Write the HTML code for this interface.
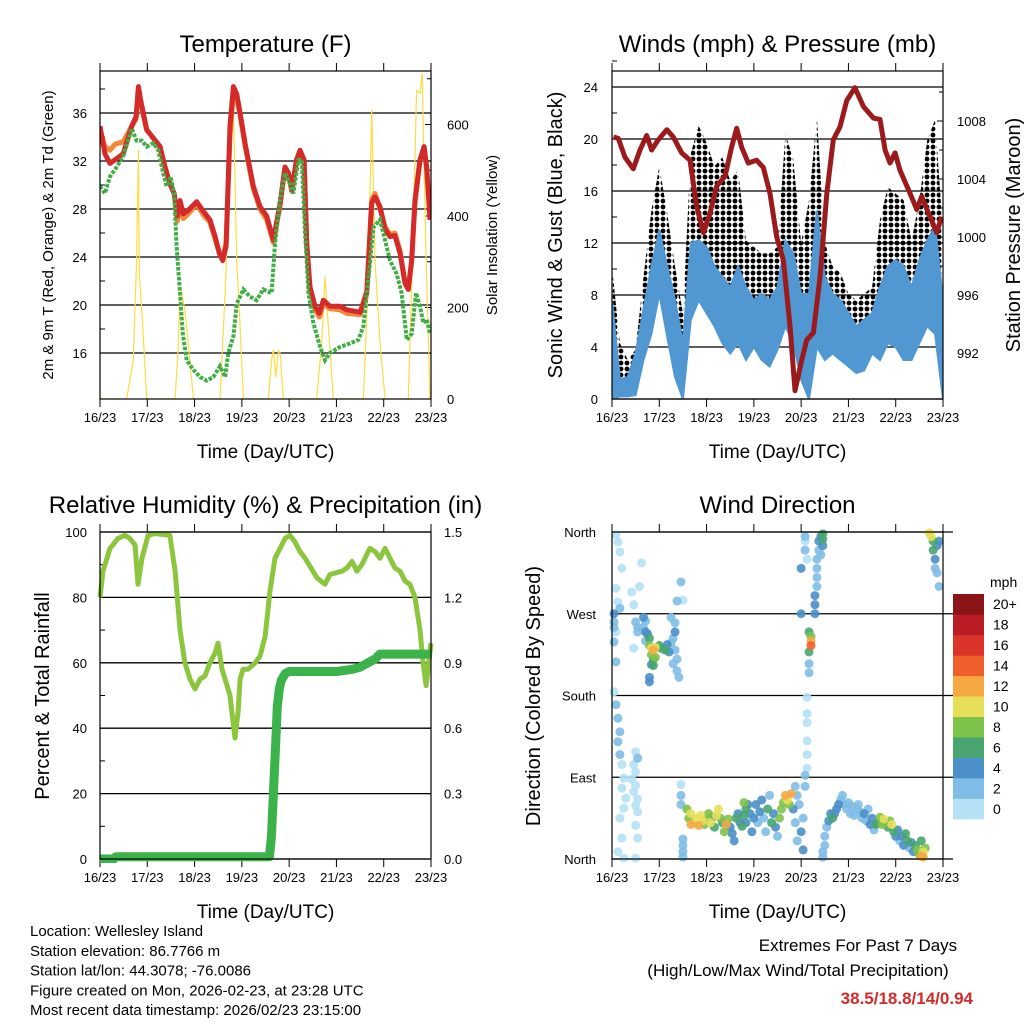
<!DOCTYPE html>
<html><head><meta charset="utf-8"><style>
body{margin:0;background:#fff}
svg{display:block;font-family:"Liberation Sans",Arial,sans-serif}
</style></head><body>
<svg id="c" width="1024" height="1024" viewBox="0 0 1024 1024" xmlns="http://www.w3.org/2000/svg">
<defs>
<pattern id="dots" width="6" height="6" patternUnits="userSpaceOnUse"><circle cx="3" cy="3" r="2.4" fill="#000"/></pattern>
<clipPath id="cp1"><rect x="100" y="71" width="331" height="328"/></clipPath>
<clipPath id="cp2"><rect x="612" y="71" width="331" height="328"/></clipPath>
<clipPath id="cp3"><rect x="96" y="528" width="339" height="335"/></clipPath>
<clipPath id="cp4"><rect x="608" y="528" width="339" height="335"/></clipPath>
</defs>
<g id="root"></g>
</svg>
<script>
// ---------- Temperature panel data ----------
const tHours=[0,2.5,5.1,7.6,11.8,16.1,18.3,19.5,20.6,22,23.7,27.1,30.5,33,35.5,37.6,39.3,40.6,42.3,44.8,49.1,52.5,55.8,58.4,60.6,62.3,64,66,67.7,69.4,71.1,73.6,77.8,81.2,84.6,88,91.4,93.9,95.6,97.3,99.8,101.5,103.6,104.9,106.6,109.1,111.3,113.4,116.7,121.8,125.2,132,135.4,137.9,139.6,142.1,144.7,147.2,149.7,152.3,154.8,156.5,158.2,159.9,162.4,164.5,165.8,167.5];
const temp2m=[34.9,32.6,31.8,32.1,32.6,34.9,35.7,38.2,37.1,36.0,34.6,33.9,33.2,31.5,30.1,29.3,27.4,28.7,27.6,27.9,28.6,27.8,27.1,25.7,24.3,23.7,24.9,34.9,38.2,37.6,36.0,33.5,29.9,28.2,27.4,25.4,28.5,31.5,31.0,29.6,32.1,32.9,32.1,25.1,21.5,19.9,19.3,20.4,19.9,19.9,19.6,19.4,21.0,28.5,29.0,28.2,26.3,25.7,25.8,24.3,21.8,21.3,23.7,28.8,32.1,33.2,31.5,27.1];
const temp9m=[34.6,33.2,32.9,33.4,33.6,34.9,35.5,37.6,36.9,35.8,34.6,33.9,33.0,31.5,30.1,29.3,27.0,28.4,27.2,27.6,28.4,27.5,26.9,25.5,24.3,23.9,25.2,34.2,37.5,37.2,35.8,33.3,29.7,28.0,27.1,25.2,28.3,31.4,31.0,29.5,32.1,32.8,32.0,25.3,21.2,19.6,19.0,20.1,19.7,19.6,19.3,19.2,21.2,28.8,29.3,28.0,26.5,25.9,26.0,24.5,21.9,21.4,23.8,28.5,32.0,33.0,31.3,27.2];
const tdHours=[0,2.5,5.1,8.5,11.8,16.1,18.6,21.2,23.7,27.1,29.6,32.1,33.8,35.9,37.6,38.9,40.6,42,44,47.4,50.8,54.1,57.5,60.9,63.5,65.1,67.7,69.4,72.8,76.1,79.5,82.9,87.1,88.8,91.4,93.9,96.4,98.1,100.7,102.4,104.1,105.8,108.3,111.7,114.2,116.7,121.8,126.9,131.1,133.7,136.2,138.8,142.1,144.7,147.2,150.6,153.1,155.7,158.2,160.4,162.4,164.1,165.8,167.5];
const dewpoint=[29.9,29.3,30.7,31.5,32.4,34.7,33.7,33.7,33.2,33.5,32.9,31.0,29.9,30.7,29.3,24.9,21.0,17.6,15.4,14.6,14.0,13.7,14.0,14.9,14.0,16.0,17.4,20.1,21.3,20.7,20.4,21.3,21.0,25.1,28.8,31.0,30.1,29.3,32.1,32.1,26.0,21.0,18.5,16.5,15.4,16.0,16.5,16.8,17.1,18.2,22.1,26.5,27.1,25.4,23.7,22.6,21.0,17.1,17.6,21.0,19.9,18.5,18.8,17.6];
const solarHours=[0,13.5,16.9,18.6,19.5,20,20.6,21.7,23.7,38.1,39.8,40.6,41.5,43.1,44.8,47.4,60.9,63.5,65.1,66.8,67.7,68.5,69.4,71.1,72.8,85.4,87.1,88,89.3,90.5,91.4,93.1,110,112.5,114.2,115.9,118.4,133.7,136.2,137.9,139.6,142.1,144.7,156.5,159,160.7,162.4,163.5,164.1,165.5,167.5];
const solar=[0,0,85,304,544,267,231,158,0,0,122,245,231,195,122,0,0,231,413,632,625,486,304,158,0,0,85,107,49,107,100,0,0,122,267,158,0,0,267,632,304,122,0,0,377,675,668,712,595,304,0];
const tempTicks=[16,20,24,28,32,36];
const solarTicks=[0,200,400,600];
const dayLabels=["16/23","17/23","18/23","19/23","20/23","21/23","22/23","23/23"];
// ---------- Wind panel data ----------
const windHours=[0,4,8,12,16,20,24,28,32,36,40,44,48,52,56,60,64,68,72,76,80,84,88,92,96,100,104,108,112,116,120,124,128,132,136,140,144,148,152,156,160,164,168];
const windLo=[0,0.2,0.2,0.3,3,5,8.1,4.8,1.7,0,6.1,7.6,6.6,5.6,4.3,3.5,4.3,3,4,3,2.5,3.8,5.6,4.3,1.5,0,4,3,3.5,3,2.5,2,2.2,3.5,3,4.3,4,3,3,4.3,5.6,5,0];
const windHi=[7.6,1.5,1.7,3.5,6.9,10.2,13,10.2,7.6,4.3,12,12.2,11.7,10.2,9.4,8.6,10.2,8.6,7.6,8.1,7.6,8.6,12.2,11.2,8.1,8.1,14.5,9.4,8.1,7.6,6.6,5.6,6.1,6.6,8.6,10.2,10.7,10.2,8.6,10.7,12.2,13.3,7.6];
const gust=[10.2,4.3,3,3.8,9.4,14.5,17.9,14.3,10.2,6.6,18.9,21,19.7,17.9,18.6,16.8,17.6,12.2,11.7,11.2,11.2,11.7,20.4,18.4,12,15.3,21.7,12,10.2,9.7,8.1,7.6,8.1,8.6,13.8,16.3,15.8,15.3,12.2,15.3,19.9,21.5,12.8];
const presHours=[0.7,3.2,6.6,10.8,14.2,17.6,20.1,23.5,27.8,31.1,35.4,39.6,43,46.4,49.7,53.1,57.4,60.7,63.3,65.8,69.2,73.4,76.8,80.2,83.6,87,90.4,92.9,96.3,98.8,102.2,105.6,109,112.3,115.7,119.1,123.3,127.6,132.7,136,138.6,141.1,143.7,146.2,151.3,154.7,157.2,161.4,164.8,167.3];
const pressure=[1006.9,1006.8,1005.5,1004.7,1006.0,1007.0,1006.0,1006.7,1007.4,1006.9,1005.8,1005.3,1002.1,1000.3,1001.6,1003.5,1004.2,1006.2,1007.5,1006.2,1005.1,1005.3,1004.8,1003.0,1000.0,998.4,993.8,989.4,991.5,992.9,993.4,997.3,1003.0,1006.7,1007.6,1009.4,1010.3,1009.0,1008.2,1008.1,1006.0,1005.1,1005.8,1004.6,1003.0,1001.9,1002.8,1001.4,1000.3,1001.4];
const windTicks=[0,4,8,12,16,20,24];
const presTicks=[992,996,1000,1004,1008];
// ---------- RH / precip data ----------
const rhHours=[0,1.5,5.1,9.1,12.7,15.2,17.8,19.3,21.3,24.4,27.9,35.5,38.1,40.6,43.1,45.7,48.2,50.8,53.3,55.8,58.4,59.9,60.9,61.9,63.5,66,67.5,68.5,70.1,71.1,72.6,75.1,78.7,81.2,83.8,86.3,88.8,91.4,93.9,96.4,98.9,101.5,104.1,110.1,114.2,116.7,122.8,125.3,127.9,130.4,132.9,134.5,137,139.6,142.1,144.7,147.2,149.7,152.3,154.8,157.3,159.9,162.4,164,165.5,168];
const rh=[80,88,95,98,99,98,96,84,92,99,99.5,99,88,70,60,55,52,55,56,60,63,66,62,58,55,50,42,37,45,55,58,58,60,62,68,82,92,95,98,99,97,94,92,86,84,87,88,89,91,88,90,92,95,94,92,95,92,89,88,85,84,80,70,60,53,66];
const precipHours=[0,7,8,86,87,88,89,90,91,92,94,96,120,128,132,136,140,142,168];
const precip=[0,0,0.01,0.01,0.1,0.3,0.5,0.7,0.78,0.82,0.85,0.86,0.86,0.87,0.88,0.9,0.92,0.94,0.94];
const rhTicks=[0,20,40,60,80,100];
const prTicks=["0.0","0.3","0.6","0.9","1.2","1.5"];
// ---------- Wind direction data ----------
const dirHour=[2,3,4,5,2,3,4,1,2,1,2,1,2,3,4,3,4,5,6,5,7,6,4,5,3,6,1,1,10,11,12,13,11,12,13,11,12,10,12,11,13,12,13,12,13,12,15,14,13,16,17,16,17,18,19,17,19,20,21,22,20,21,22,20,21,19,19,24,25,27,28,29,30,31,32,30,32,33,31,33,34,32,35,36,33,35,35,35,36,36,36,36,38,39,40,40,42,43,44,45,46,47,48,49,50,51,52,53,54,55,56,57,58,59,60,61,62,63,64,65,66,67,67,68,68,69,70,71,72,73,74,75,76,77,78,79,80,81,82,83,84,85,86,87,88,89,90,91,92,93,94,95,93,94,96,97,97,98,98,99,99,99,99,99,99,100,100,100,101,101,101,100,96,96,98,98,98,99,103,103,103,104,104,104,104,105,105,106,107,107,106,107,107,107,108,108,109,110,111,112,113,114,115,116,117,118,119,120,121,122,123,124,125,126,127,128,129,130,131,132,133,134,135,136,137,138,139,140,141,142,143,144,145,146,147,148,149,150,151,152,153,154,155,156,157,158,158,159,157,161,162,163,163,164,164,165,165,166,166];
const dirDeg=[357,349,338,320,298,283,276,261,250,239,217,184,170,155,140,129,115,104,89,78,67,56,45,23,8,1,270,255,294,280,261,250,232,118,111,104,96,88,81,74,66,59,52,37,23,1,326,300,255,266,262,255,250,248,243,240,235,232,230,233,225,220,222,214,213,200,195,235,232,230,236,228,238,243,260,266,230,220,215,207,200,250,305,285,284,82,70,60,22,15,8,2,55,45,38,50,40,45,37,48,42,38,44,50,40,46,35,48,55,45,40,30,38,44,35,28,20,45,50,40,36,48,62,55,40,60,50,30,45,60,40,52,65,45,30,55,70,40,50,35,25,45,55,62,70,65,60,72,55,80,70,60,40,20,30,10,45,80,92,100,115,130,150,160,178,205,215,228,235,240,245,250,320,270,340,355,350,330,270,280,290,300,310,320,330,340,350,355,358,345,335,352,2,8,15,25,35,42,50,45,50,55,60,65,70,60,55,62,50,58,48,55,60,52,45,50,42,55,38,45,32,38,40,46,38,44,40,35,42,38,30,25,32,20,25,15,28,20,12,18,8,15,10,5,3,2,8,12,20,359,355,350,340,330,320,315,345,350,300];
const dirSpeed=[1,1,1,1,1,1,2,3,1,3,3,1,2,2,2,2,2,1,1,1,1,1,1,1,1,1,5,3,1,1,2,3,1,1,2,1,1,1,1,1,1,1,1,1,1,1,1,1,3,5,3,3,5,5,7,3,9,11,13,11,9,7,9,5,7,5,5,7,7,7,5,5,3,3,3,2,3,3,3,2,2,5,2,1,2,1,2,2,3,3,3,3,9,9,13,11,11,11,13,11,11,9,9,9,11,7,7,11,11,9,7,9,13,9,5,5,5,7,5,5,7,7,9,7,5,5,5,5,5,5,3,5,5,3,3,7,3,7,5,5,3,9,9,9,13,11,9,13,5,3,3,3,3,3,5,5,3,3,3,1,1,1,1,1,1,3,3,7,15,13,9,7,5,5,3,3,1,1,5,5,5,3,3,3,3,3,5,5,7,5,3,7,3,3,3,3,3,5,5,7,5,5,5,3,3,3,3,3,3,3,3,3,3,3,3,5,3,3,5,5,3,7,7,9,9,11,9,7,9,11,7,5,5,3,5,5,7,7,3,5,5,7,9,9,13,13,11,9,7,11,11,7,7,5,3,3,5,5,3];
const dirTickLabels=["North","East","South","West","North"];
const speedBins=["0","2","4","6","8","10","12","14","16","18","20+"];
const binColors=["#b5e1f6","#80bde6","#4a8fc8","#49a56f","#7dc24b","#e7df5a","#f6a843","#ef5f2b","#da342b","#b91c24","#8c1417"];

const NS="http://www.w3.org/2000/svg";
const root=document.getElementById('root');
function mk(tag,attrs,parent,text){const e=document.createElementNS(NS,tag);for(const k in attrs)e.setAttribute(k,attrs[k]);if(text!==undefined)e.textContent=text;(parent||root).appendChild(e);return e;}
function grp(name,clip){const g=mk('g',clip?{'clip-path':'url(#'+clip+')'}:{});


return g;}
function pathD(xs,ys,fx,fy){return xs.map((h,i)=>(i?'L':'M')+fx(h).toFixed(1)+','+fy(ys[i]).toFixed(1)).join('');}

function panelFrame(name,x0,x1,y0,y1,title,xTitle){
  const g=grp(name+'-frame');
  const t=mk('text',{x:(x0+x1)/2,y:y0-19,'font-size':24,'text-anchor':'middle'},g,title);
  
  
  const xt=mk('text',{x:(x0+x1)/2,y:y1+59,'font-size':19,'text-anchor':'middle'},g,xTitle);
  
  
  dayLabels.forEach((d,i)=>{const x=x0+i*(x1-x0)/7;
    mk('line',{x1:x,x2:x,y1:y0-8,y2:y0,stroke:'#000','stroke-width':1},g);
    mk('line',{x1:x,x2:x,y1:y1,y2:y1+8,stroke:'#000','stroke-width':1},g);
    const l=mk('text',{x:x,y:y1+23,'font-size':13,'text-anchor':'middle'},g,d);
    
    
  });
  return g;
}
function box(x0,x1,y0,y1){const r=mk('rect',{x:x0,y:y0,width:x1-x0,height:y1-y0,fill:'none',stroke:'#000','stroke-width':1.2});

}

// ===== Panel 1 Temperature =====
(function(){
const x0=100,x1=431,y0=71,y1=399;
const X=h=>x0+h*(x1-x0)/168, YT=v=>353-(v-16)*12, YS=v=>399-v*0.4575;
panelFrame('temperature',x0,x1,y0,y1,'Temperature (F)','Time (Day/UTC)');
const ga=grp('temperature-axes');
tempTicks.forEach(v=>{mk('line',{x1:x0,x2:x1,y1:YT(v),y2:YT(v),stroke:'#000','stroke-width':1.3},ga);
 const l=mk('text',{x:x0-13,y:YT(v)+5,'font-size':13,'text-anchor':'end'},ga,v);
 
 
 mk('line',{x1:x0,x2:x0+5,y1:YT(v+2),y2:YT(v+2),stroke:'#000'},ga);});
solarTicks.forEach(v=>{const l=mk('text',{x:x1+16,y:YS(v)+5,'font-size':13},ga,v);
 
 
 mk('line',{x1:x1-6,x2:x1,y1:YS(v),y2:YS(v),stroke:'#000'},ga);
 mk('line',{x1:x1-4,x2:x1,y1:YS(v+100),y2:YS(v+100),stroke:'#000'},ga);});
const yl=mk('text',{transform:'translate(53,235) rotate(-90)','font-size':15,'text-anchor':'middle'},ga,'2m & 9m T (Red, Orange) & 2m Td (Green)');


const yr=mk('text',{transform:'translate(497,235) rotate(-90)','font-size':15,'text-anchor':'middle'},ga,'Solar Insolation (Yellow)');


const gd=grp('temperature-series','cp1');
const s=mk('path',{d:pathD(solarHours,solar,X,YS),fill:'none',stroke:'#ffdc40','stroke-width':1.2,'stroke-linejoin':'round'},gd);


const o=mk('path',{d:pathD(tHours,temp9m,X,YT),fill:'none',stroke:'#f5863a','stroke-width':5,'stroke-linejoin':'round'},gd);


const r=mk('path',{d:pathD(tHours,temp2m,X,YT),fill:'none',stroke:'#d42a2a','stroke-width':5,'stroke-linejoin':'round'},gd);


const g=mk('path',{d:pathD(tdHours,dewpoint,X,YT),fill:'none',stroke:'#3fae45','stroke-width':4,'stroke-dasharray':'3.5 1.5'},gd);


box(x0,x1,y0,y1);
})();

// ===== Panel 2 Winds =====
(function(){
const x0=612,x1=943,y0=71,y1=399;
const X=h=>x0+h*(x1-x0)/168, YW=v=>399-v*13, YP=v=>353-(v-992)*14.5;
panelFrame('winds',x0,x1,y0,y1,'Winds (mph) & Pressure (mb)','Time (Day/UTC)');
const ga=grp('winds-axes');
windTicks.forEach(v=>{mk('line',{x1:x0,x2:x1,y1:YW(v),y2:YW(v),stroke:'#000','stroke-width':1.3},ga);
 const l=mk('text',{x:x0-14,y:YW(v)+5,'font-size':13,'text-anchor':'end'},ga,v);
 
 
 mk('line',{x1:x0,x2:x0+5,y1:YW(v+2),y2:YW(v+2),stroke:'#000'},ga);});
presTicks.forEach(v=>{const l=mk('text',{x:x1+14,y:YP(v)+5,'font-size':13},ga,v);
 
 
 mk('line',{x1:x1-6,x2:x1,y1:YP(v),y2:YP(v),stroke:'#000'},ga);
 mk('line',{x1:x1-4,x2:x1,y1:YP(v+2),y2:YP(v+2),stroke:'#000'},ga);});
const yl=mk('text',{transform:'translate(562,235) rotate(-90)','font-size':20,'text-anchor':'middle'},ga,'Sonic Wind & Gust (Blue, Black)');


const yr=mk('text',{transform:'translate(1020,235) rotate(-90)','font-size':20,'text-anchor':'middle'},ga,'Station Pressure (Maroon)');


const gd=grp('winds-series','cp2');
const up=windHours.map((h,i)=>X(h).toFixed(1)+','+YW(gust[i]).toFixed(1));
const dn=windHours.map((h,i)=>X(h).toFixed(1)+','+YW(windLo[i]).toFixed(1)).reverse();
const b=mk('polygon',{points:up.concat(dn).join(' '),fill:'url(#dots)'},gd);


const up2=windHours.map((h,i)=>X(h).toFixed(1)+','+YW(windHi[i]).toFixed(1));
const bl=mk('polygon',{points:up2.concat(dn).join(' '),fill:'#5197d2',stroke:'#5197d2','stroke-width':2},gd);


const p=mk('path',{d:pathD(presHours,pressure,X,YP),fill:'none',stroke:'#9b1b1d','stroke-width':5,'stroke-linejoin':'round'},gd);


box(x0,x1,y0,y1);
})();

// ===== Panel 3 RH =====
(function(){
const x0=100,x1=431,y0=532,y1=859;
const X=h=>x0+h*(x1-x0)/168, YR=v=>859-v*3.27, YPr=v=>859-v/1.5*327;
panelFrame('humidity',x0,x1,y0,y1,'Relative Humidity (%) & Precipitation (in)','Time (Day/UTC)');
const ga=grp('humidity-axes');
rhTicks.forEach(v=>{mk('line',{x1:x0,x2:x1,y1:YR(v),y2:YR(v),stroke:'#000','stroke-width':1.3},ga);
 const l=mk('text',{x:x0-13,y:YR(v)+5,'font-size':13,'text-anchor':'end'},ga,v);
 
 
 mk('line',{x1:x0,x2:x0+5,y1:YR(v+10),y2:YR(v+10),stroke:'#000'},ga);});
prTicks.forEach((v,i)=>{const yy=YPr(parseFloat(v));const l=mk('text',{x:x1+13,y:yy+5,'font-size':13},ga,v);
 
 
 mk('line',{x1:x1-6,x2:x1,y1:yy,y2:yy,stroke:'#000'},ga);});
const yl=mk('text',{transform:'translate(49,696) rotate(-90)','font-size':20,'text-anchor':'middle'},ga,'Percent & Total Rainfall');


const gd=grp('humidity-series','cp3');
const r=mk('path',{d:pathD(rhHours,rh,X,YR),fill:'none',stroke:'#8cc63f','stroke-width':5,'stroke-linejoin':'round'},gd);


const p=mk('path',{d:pathD(precipHours,precip,X,YPr),fill:'none',stroke:'#3cb34a','stroke-width':9,'stroke-linejoin':'round'},gd);


box(x0,x1,y0,y1);
})();

// ===== Panel 4 Wind direction =====
(function(){
const x0=612,x1=943,y0=532,y1=859;
const X=h=>x0+h*(x1-x0)/168, YD=d=>859-d*327/360;
panelFrame('wind-direction',x0,x1,y0,y1,'Wind Direction','Time (Day/UTC)');
const ga=grp('wind-direction-axes');
dirTickLabels.forEach((s,i)=>{const yy=YD(i*90);
 mk('line',{x1:x0,x2:x1+10,y1:yy,y2:yy,stroke:'#000','stroke-width':1.3},ga);
 const l=mk('text',{x:x0-16,y:yy+5,'font-size':13,'text-anchor':'end'},ga,s);
 
 });
const yl=mk('text',{transform:'translate(540,696) rotate(-90)','font-size':20,'text-anchor':'middle'},ga,'Direction (Colored By Speed)');


const gd=grp('wind-direction-points','cp4');
const order=dirSpeed.map((s,i)=>i).sort((a,b)=>dirSpeed[a]-dirSpeed[b]);
order.forEach(i=>{const bin=Math.min(10,Math.floor(dirSpeed[i]/2));
 const c=mk('circle',{cx:X(dirHour[i]),cy:YD(dirDeg[i]),r:4.5,fill:binColors[bin],'fill-opacity':0.9},gd);
 
 });
box(x0,x1,y0,y1);
const gl=grp('speed-colorbar');
const mt=mk('text',{x:990,y:587,'font-size':14},gl,'mph');


const bh=(819-594)/11;
speedBins.forEach((s,i)=>{const yy=819-(i+1)*bh;
 const r=mk('rect',{x:953,y:yy,width:31,height:bh+0.3,fill:binColors[i]},gl);
 
 
 const t=mk('text',{x:993,y:yy+bh/2+5,'font-size':14},gl,s);
 
 });
})();

// ===== Footer text =====
(function(){
const g=grp('station-info');
["Location: Wellesley Island","Station elevation: 86.7766 m","Station lat/lon: 44.3078; -76.0086","Figure created on Mon, 2026-02-23, at 23:28 UTC","Most recent data timestamp: 2026/02/23 23:15:00"].forEach((s,i)=>{
 const t=mk('text',{x:30,y:936+i*19.8,'font-size':15},g,s);
 
 });
const g2=grp('extremes-summary');
const a=mk('text',{x:858,y:951,'font-size':17,'text-anchor':'middle'},g2,'Extremes For Past 7 Days');


const b=mk('text',{x:798,y:976,'font-size':17,'text-anchor':'middle'},g2,'(High/Low/Max Wind/Total Precipitation)');


const c=mk('text',{x:973,y:1004,'font-size':17,'font-weight':'bold','text-anchor':'end',fill:'#d42a2a'},g2,'38.5/18.8/14/0.94');


})();
</script>
</body></html>
